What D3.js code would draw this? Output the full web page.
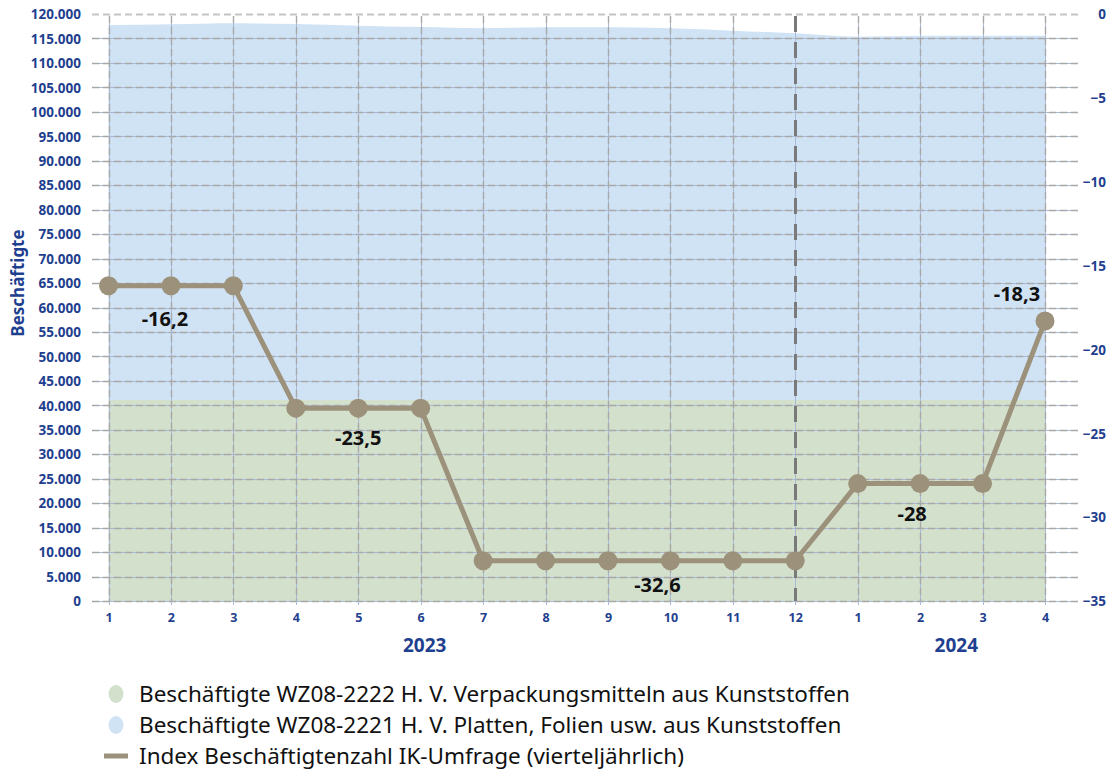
<!DOCTYPE html>
<html><head><meta charset="utf-8">
<script src="https://cdn.jsdelivr.net/npm/d3@7"></script>
<style>body{margin:0;background:#fff}svg{display:block}</style>
</head><body><svg id="c" width="1115" height="770"></svg>
<script>
const monthLabels = ["1","2","3","4","5","6","7","8","9","10","11","12","1","2","3","4"];
const yearLabels = ["2023","2024"];
const greenValues = [41100,41100,41100,41100,41100,41100,41100,41100,41100,41100,41100,41100,41100,41100,41100,41100];
const blueValues = [76650,76800,77000,76850,76500,76250,76000,76200,76200,76000,75500,74950,74250,74450,74450,74450];
const indexValues = [-16.2,-16.2,-16.2,-23.5,-23.5,-23.5,-32.6,-32.6,-32.6,-32.6,-32.6,-32.6,-28,-28,-28,-18.3];
const indexLabels = [{i:1,text:"-16,2"},{i:4,text:"-23,5"},{i:9,text:"-32,6"},{i:13,text:"-28"},{i:15,text:"-18,3"}];
const leftTicks = d3.range(0,120001,5000);
const rightTicks = [0,-5,-10,-15,-20,-25,-30,-35];
const legendItems = [
  {type:"dot",key:"green",text:"Beschäftigte WZ08-2222 H. V. Verpackungsmitteln aus Kunststoffen"},
  {type:"dot",key:"blue",text:"Beschäftigte WZ08-2221 H. V. Platten, Folien usw. aus Kunststoffen"},
  {type:"line",key:"line",text:"Index Beschäftigtenzahl IK-Umfrage (vierteljährlich)"}
];
const colors = {green:"#d3e0cc",blue:"#d0e3f5",line:"#9c917a",axis:"#1f3f8f"};

(function(){
const svg = d3.select("#c");
const pTop=14,pBottom=601,pLeft=108.5,pRight=1045;
const x = d3.scaleLinear().domain([0,15]).range([pLeft,pRight]);
const yL = d3.scaleLinear().domain([0,120000]).range([pBottom,pTop]);
const yR = d3.scaleLinear().domain([-35,0]).range([pBottom,pTop]);

const data = monthLabels.map((m,i)=>({i,green:greenValues[i],blue:blueValues[i]}));
const stack = d3.stack().keys(["green","blue"])(data);
const area = d3.area().x(d=>x(d.data.i)).y0(d=>yL(d[0])).y1(d=>yL(d[1])).curve(d3.curveMonotoneX);
svg.append("path").attr("d",area(stack[1])).attr("fill",colors.blue);
svg.append("path").attr("d",area(stack[0])).attr("fill",colors.green);

const grid = svg.append("g");
leftTicks.forEach(v=>{
  const yy = Math.round(yL(v))+0.5;
  if(v<120000) grid.append("line").attr("x1",92).attr("x2",1078).attr("y1",yy).attr("y2",yy).attr("stroke","#a9b8d6").attr("stroke-width",1);
  grid.append("line").attr("x1",92).attr("x2",1078).attr("y1",yy).attr("y2",yy).attr("stroke",v==120000?"#c4c4c4":"#a8a8a8").attr("stroke-width",v==120000?2:1.4).attr("stroke-dasharray","7,4");
});
monthLabels.forEach((m,i)=>{
  const xx = Math.round(x(i))+0.5;
  grid.append("line").attr("x1",xx).attr("x2",xx).attr("y1",pTop+2).attr("y2",pBottom+4).attr("stroke","#a9b8d6").attr("stroke-width",1);
  if(i===11){
    grid.append("line").attr("x1",xx).attr("x2",xx).attr("y1",pTop+2).attr("y2",pBottom).attr("stroke","#7a7a7a").attr("stroke-width",3).attr("stroke-dasharray","16,10");
  } else {
    grid.append("line").attr("x1",xx).attr("x2",xx).attr("y1",pTop+2).attr("y2",pBottom).attr("stroke","#a8a8a8").attr("stroke-width",1.4).attr("stroke-dasharray","7,4");
  }
});

const fam = "'Noto Sans',sans-serif";
const la = svg.append("g").attr("transform",`translate(81,0)`)
  .call(d3.axisLeft(yL).tickValues(leftTicks).tickSize(0).tickPadding(0).tickFormat(d=>d===0?"0":d3.format(",")(d).replace(/,/g,".")));
la.select(".domain").remove();
la.selectAll("text").attr("fill",colors.axis).attr("font-family",fam).attr("font-weight","bold").attr("font-size",13.5).attr("dy","0.35em");

const ra = svg.append("g").attr("transform",`translate(1106,0)`)
  .call(d3.axisLeft(yR).tickValues(rightTicks).tickSize(0).tickPadding(0).tickFormat(d=>d3.format("d")(d)));
ra.select(".domain").remove();
ra.selectAll("text").attr("fill",colors.axis).attr("font-family",fam).attr("font-weight","bold").attr("font-size",13.5).attr("dy","0.35em");

const ba = svg.append("g").attr("transform",`translate(0,${pBottom})`)
  .call(d3.axisBottom(x).tickValues(d3.range(16)).tickSize(0).tickPadding(12).tickFormat(i=>monthLabels[i]));
ba.select(".domain").remove();
ba.selectAll("text").attr("fill",colors.axis).attr("font-family",fam).attr("font-weight","bold").attr("font-size",12.5);

svg.append("text").attr("x",x(5)+4).attr("y",652).attr("text-anchor","middle").attr("fill",colors.axis)
  .attr("font-family",fam).attr("font-weight","bold").attr("font-size",19).text(yearLabels[0]);
svg.append("text").attr("x",(x(12)+x(15))/2+5).attr("y",652).attr("text-anchor","middle").attr("fill",colors.axis)
  .attr("font-family",fam).attr("font-weight","bold").attr("font-size",19).text(yearLabels[1]);

svg.append("text").attr("transform","translate(24,283) rotate(-90)").attr("text-anchor","middle").attr("fill",colors.axis)
  .attr("font-family",fam).attr("font-weight","bold").attr("font-size",17).text("Beschäftigte");

const line = d3.line().x((d,i)=>x(i)).y(d=>yR(d));
svg.append("path").attr("d",line(indexValues)).attr("fill","none").attr("stroke",colors.line).attr("stroke-width",5).attr("stroke-linejoin","round");
svg.selectAll("circle.pt").data(indexValues).join("circle").attr("class","pt")
  .attr("cx",(d,i)=>x(i)).attr("cy",d=>yR(d)).attr("r",9.5).attr("fill",colors.line);

const lblDx = {1:-6,4:0,9:-13,13:-8,15:-28};
const lblDy = {1:40,4:37,9:31,13:37,15:-20};
indexLabels.forEach(l=>{
  svg.append("text").attr("x",x(l.i)+lblDx[l.i]).attr("y",yR(indexValues[l.i]) + lblDy[l.i]).attr("text-anchor","middle")
    .attr("font-family",fam).attr("font-weight","bold").attr("font-size",20).attr("fill","#111").text(l.text);
});

const lg = svg.append("g");
legendItems.forEach((it,k)=>{
  const yy = 694 + k*31;
  if(it.type==="dot") lg.append("ellipse").attr("cx",116).attr("cy",yy).attr("rx",7.5).attr("ry",9).attr("fill",colors[it.key]);
  else lg.append("rect").attr("x",104).attr("y",yy-2.5).attr("width",24).attr("height",5).attr("fill",colors.line);
  lg.append("text").attr("x",139).attr("y",yy).attr("dy","0.35em").attr("font-family",fam)
    .attr("font-size",22.5).attr("fill","#111").text(it.text);
});
})();
</script></body></html>
